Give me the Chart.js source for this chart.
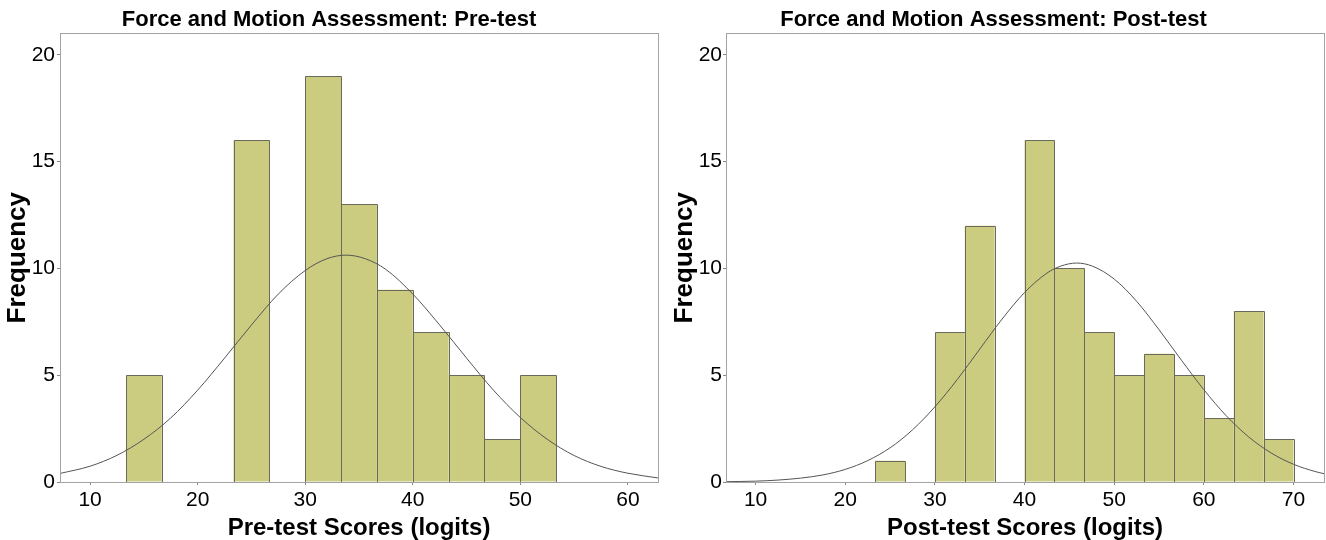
<!DOCTYPE html>
<html>
<head>
<meta charset="utf-8">
<script src="https://cdn.jsdelivr.net/npm/chart.js@4.4.1/dist/chart.umd.min.js"></script>
<style>
  html, body { margin: 0; padding: 0; background: #fff; }
  #wrap { position: relative; width: 1326px; height: 540px; overflow: hidden; }
  #c1 { position: absolute; left: 0; top: 0; }
  #c2 { position: absolute; left: 663px; top: 0; }
</style>
</head>
<body>
<div id="wrap">
  <canvas id="c1" width="663" height="540"></canvas>
  <canvas id="c2" width="663" height="540"></canvas>
</div>
<script>
// ---------- DATA ----------
const preTitle = "Force and Motion Assessment: Pre-test";
const postTitle = "Force and Motion Assessment: Post-test";
const preAxisLabel = "Pre-test Scores (logits)";
const postAxisLabel = "Post-test Scores (logits)";
const yAxisLabel = "Frequency";

// histogram bins (bin centres, width 10/3 logits) and frequencies
const preBinCenters = [15, 25, 31.667, 35, 38.333, 41.667, 45, 48.333, 51.667];
const preCounts     = [5, 16, 19, 13, 9, 7, 5, 2, 5];

const postBinCenters = [25, 31.667, 35, 41.667, 45, 48.333, 51.667, 55, 58.333, 61.667, 65, 68.333];
const postCounts     = [1, 7, 12, 16, 10, 7, 5, 6, 5, 3, 8, 2];

// normal curve
const preCurveX = [7.2, 10, 12.5, 15, 17.5, 20, 22.5, 25, 27.5, 30, 32, 33.8, 35.6, 37.5, 40, 42.5, 45, 47.5, 50, 52.5, 55, 57.5, 60, 62.8];
const preCurveY = [0.40, 0.74, 1.25, 2.0, 3.0, 4.3, 5.8, 7.35, 8.8, 9.9, 10.45, 10.62, 10.45, 9.95, 8.8, 7.35, 5.8, 4.3, 3.02, 2.0, 1.24, 0.73, 0.41, 0.19];

const postCurveX = [6.7, 10, 12.5, 15, 17.5, 20, 22.5, 25, 27.5, 30, 32.5, 35, 37.5, 40, 42.5, 44, 45.8, 47.6, 50, 52.5, 55, 57.5, 60, 62.5, 65, 67.5, 70, 72.5, 73.4];
const postCurveY = [0.015, 0.04, 0.09, 0.18, 0.33, 0.59, 1.0, 1.6, 2.44, 3.52, 4.8, 6.22, 7.63, 8.87, 9.78, 10.1, 10.25, 10.1, 9.5, 8.46, 7.13, 5.7, 4.32, 3.1, 2.11, 1.36, 0.83, 0.48, 0.39];

const yTicks = [0, 5, 10, 15, 20];
const preXTicks = [10, 20, 30, 40, 50, 60];
const postXTicks = [10, 20, 30, 40, 50, 60, 70];

// ---------- STYLE ----------
const barFill = '#cccc80';
const barEdge = '#6a6a5c';
const curveColor = '#555555';
const frameColor = '#a3a3a3';
const tickFont = { family: "'Liberation Sans Narrow', 'Arial Narrow', 'Liberation Sans', Arial, sans-serif", size: 21 };
const boldFamily = "'Liberation Sans', Arial, Helvetica, sans-serif";

const framePlugin = {
  id: 'frame',
  afterDatasetDraw(chart, args) {
    if (args.meta.type !== 'bar') return;
    const { ctx } = chart;
    ctx.save();
    ctx.strokeStyle = barEdge;
    ctx.lineWidth = 1;
    args.meta.data.forEach((bar) => {
      const p = bar.getProps(['x', 'y', 'base', 'width'], true);
      const L = Math.round(p.x - p.width / 2) + 0.5;
      const R = Math.round(p.x + p.width / 2) + 0.5;
      const T = Math.round(p.y) + 0.5;
      const B = Math.round(p.base) + 0.5;
      ctx.beginPath();
      ctx.moveTo(L, B); ctx.lineTo(L, T); ctx.lineTo(R, T); ctx.lineTo(R, B);
      ctx.stroke();
    });
    ctx.restore();
  },
  afterDatasetsDraw(chart) {
    const { ctx, chartArea: a } = chart;
    ctx.save();
    ctx.strokeStyle = frameColor;
    ctx.lineWidth = 1;
    ctx.strokeRect(Math.round(a.left) + 0.5, Math.round(a.top) + 0.5,
                   Math.round(a.right - a.left), Math.round(a.bottom - a.top));
    ctx.restore();
  }
};

function makeChart(id, cfg) {
  const barData = cfg.centers.map((x, i) => ({ x: x, y: cfg.counts[i] }));
  const curveData = cfg.curveX.map((x, i) => ({ x: x, y: cfg.curveY[i] }));
  return new Chart(document.getElementById(id), {
    type: 'bar',
    data: {
      datasets: [
        {
          type: 'line',
          data: curveData,
          borderColor: curveColor,
          borderWidth: 1,
          pointRadius: 0,
          fill: false,
          cubicInterpolationMode: 'monotone',
          order: 0
        },
        {
          type: 'bar',
          data: barData,
          backgroundColor: barFill,
          borderWidth: 0,
          inflateAmount: 0,
          barPercentage: 1,
          categoryPercentage: 1,
          order: 1
        }
      ]
    },
    options: {
      responsive: false,
      animation: false,
      devicePixelRatio: 1,
      layout: { padding: { left: 0, right: cfg.padRight, top: 0, bottom: 0 } },
      plugins: {
        legend: { display: false },
        tooltip: { enabled: false },
        title: {
          display: true,
          text: cfg.title,
          color: '#000',
          font: { family: boldFamily, size: 22, weight: 'bold', lineHeight: 1.2 },
          padding: { top: 7, bottom: 0 }
        }
      },
      scales: {
        x: {
          type: 'linear',
          min: cfg.xMin,
          max: cfg.xMax,
          offset: false,
          afterFit: (s) => { s.height = 58; },
          afterBuildTicks: (s) => { s.ticks = cfg.xTicks.map(v => ({ value: v })); },
          grid: { display: true, offset: false, drawOnChartArea: false, drawTicks: true, tickLength: 3, color: '#888', lineWidth: 1 },
          border: { display: false },
          ticks: { color: '#000', font: tickFont, padding: 3, maxRotation: 0, autoSkip: false },
          title: {
            display: true, text: cfg.xLabel, color: '#000',
            font: { family: boldFamily, size: 24, weight: 'bold', lineHeight: 1 },
            padding: { top: 0, bottom: 0 }
          }
        },
        y: {
          type: 'linear',
          min: 0,
          max: 21,
          afterFit: (s) => { s.width = cfg.yWidth; },
          afterBuildTicks: (s) => { s.ticks = yTicks.map(v => ({ value: v })); },
          grid: { display: true, drawOnChartArea: false, drawTicks: true, tickLength: 3, color: '#888', lineWidth: 1 },
          border: { display: false },
          ticks: { color: '#000', font: tickFont, padding: cfg.yPad },
          title: {
            display: true, text: yAxisLabel, color: '#000',
            font: { family: boldFamily, size: 26, weight: 'bold', lineHeight: 1 },
            padding: { top: cfg.yTitlePad, bottom: 0 }
          }
        }
      }
    },
    plugins: [framePlugin]
  });
}

makeChart('c1', {
  title: preTitle, xLabel: preAxisLabel,
  centers: preBinCenters, counts: preCounts,
  curveX: preCurveX, curveY: preCurveY,
  xMin: 7.2, xMax: 62.8, xTicks: preXTicks,
  yWidth: 60, yPad: 2, yTitlePad: 5, padRight: 5
});
makeChart('c2', {
  title: postTitle, xLabel: postAxisLabel,
  centers: postBinCenters, counts: postCounts,
  curveX: postCurveX, curveY: postCurveY,
  xMin: 6.7, xMax: 73.4, xTicks: postXTicks,
  yWidth: 63, yPad: 1, yTitlePad: 9, padRight: 2
});
</script>
</body>
</html>
